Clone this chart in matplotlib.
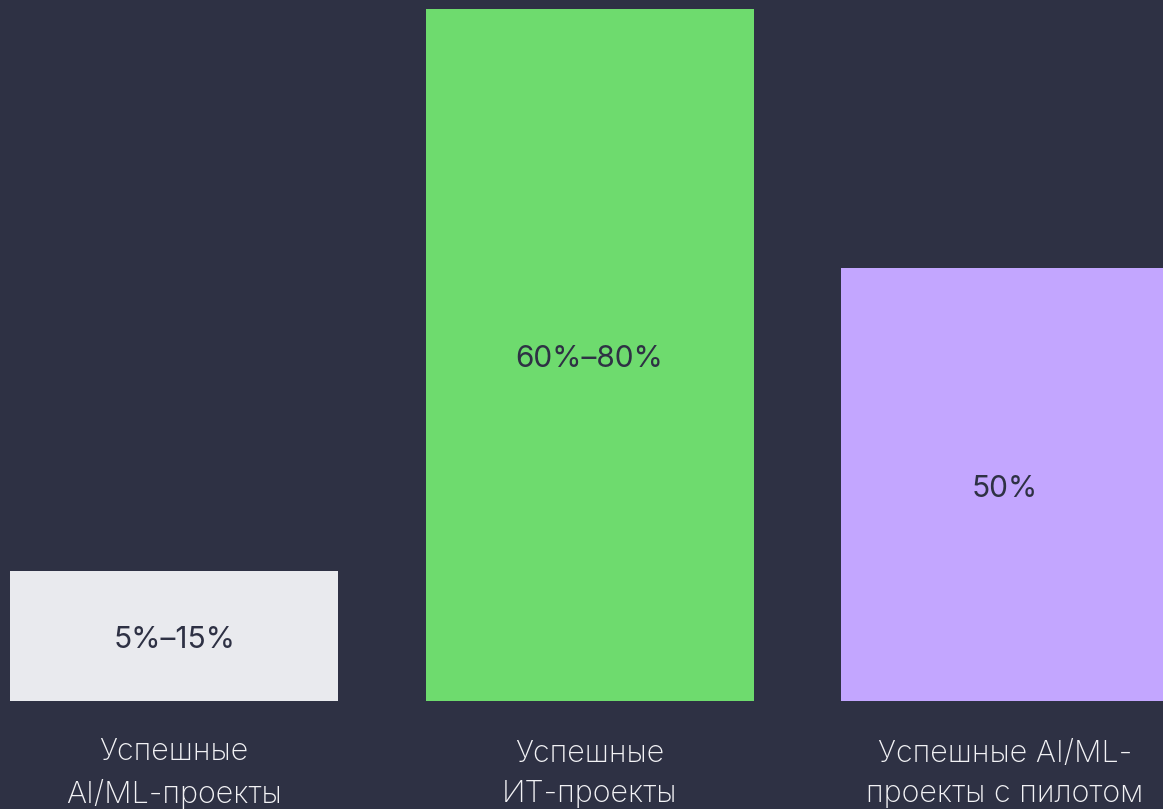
import matplotlib
matplotlib.use("Agg")
import matplotlib.pyplot as plt

# данные
categories = ["Успешные\nAI/ML-проекты", "Успешные\nИТ-проекты", "Успешные AI/ML-\nпроекты с пилотом"]
values = [15, 80, 50]
value_labels = ["5%–15%", "60%–80%", "50%"]
bar_colors = ["#E9EAEE", "#6EDB6E", "#C3A6FF"]

BG = "#2E3144"

plt.rcParams["font.family"] = ["Inter", "DejaVu Sans"]

fig = plt.figure(figsize=(11.63, 8.09), dpi=100)
fig.patch.set_facecolor(BG)
ax = fig.add_axes([0, 0, 1, 1])
ax.set_facecolor(BG)

x = list(range(len(values)))
ax.bar(x, values, width=0.789, color=bar_colors, linewidth=0)

# подписи значений внутри столбцов
for xi, v, lab in zip(x, values, value_labels):
    ax.text(xi, v / 2 - 0.5, lab, ha="center", va="center", fontsize=21.5,
            color=BG)

# подписи категорий под столбцами
for xi, cat in zip(x, categories):
    ax.text(xi, -8.4, cat, ha="center", va="center", fontsize=22,
            color="#F2F2F5", linespacing=1.55, fontweight="light")

ax.set_xlim(-0.419, 2.38)
ax.set_ylim(-12.49, 81.04)
ax.axis("off")

fig.savefig("out.png", dpi=100, facecolor=BG)
